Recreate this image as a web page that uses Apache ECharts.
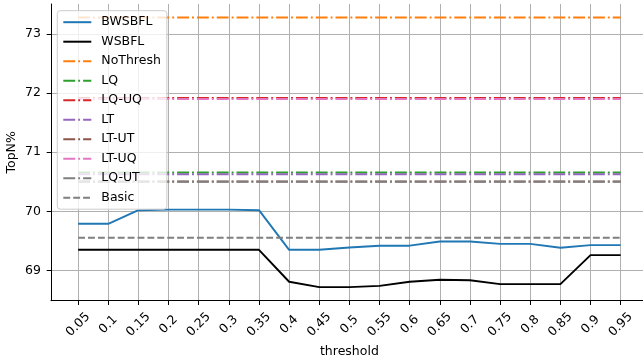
<!DOCTYPE html>
<html>
<head>
<meta charset="utf-8">
<script src="https://cdn.jsdelivr.net/npm/echarts@6/dist/echarts.min.js"></script>
<style>
html,body{margin:0;padding:0;background:#fff;}
#chart{width:643px;height:362px;}
</style>
</head>
<body>
<div id="chart"></div>
<script>
// ---- data ----
const thresholds = [0.05,0.1,0.15,0.2,0.25,0.3,0.35,0.4,0.45,0.5,0.55,0.6,0.65,0.7,0.75,0.8,0.85,0.9,0.95];
const tickLabels = ['0.05','0.1','0.15','0.2','0.25','0.3','0.35','0.4','0.45','0.5','0.55','0.6','0.65','0.7','0.75','0.8','0.85','0.9','0.95'];
const yTicks = [69,70,71,72,73];
const bwsbfl = [69.79,69.79,70.02,70.03,70.03,70.03,70.02,69.35,69.35,69.39,69.42,69.42,69.49,69.49,69.45,69.45,69.385,69.43,69.43];
const wsbfl  = [69.35,69.35,69.35,69.35,69.35,69.35,69.35,68.81,68.72,68.72,68.74,68.81,68.845,68.835,68.77,68.77,68.77,69.26,69.26];
const noThresh = 73.277;
const lq = 70.657;
const lqUq = 71.915;
const lt = 70.628;
const ltUt = 70.505;
const ltUq = 71.900;
const lqUt = 70.500;
const basic = 69.555;

// ---- styles ----
const LW = 1.9;
const dashDot = [11.9, 3, 1.9, 3];
const dashed = [6.9, 3];
const FS = 12.5;
const FONT = 'DejaVu Sans';

function curve(name, values, color) {
  return {
    name, type: 'line', symbol: 'none', animation: false,
    data: thresholds.map((t, i) => [t, values[i]]),
    lineStyle: { color, width: LW, cap: 'butt', join: 'round' },
    itemStyle: { color }
  };
}
function ref(name, value, color, dash) {
  const first = thresholds[0], last = thresholds[thresholds.length - 1];
  return {
    name, type: 'line', symbol: 'none', animation: false,
    data: [[first, value], [last, value]],
    lineStyle: { color, width: LW, type: dash, cap: 'butt' },
    itemStyle: { color }
  };
}

const series = [
  curve('BWSBFL', bwsbfl, '#1f77b4'),
  curve('WSBFL', wsbfl, '#000000'),
  ref('NoThresh', noThresh, '#ff7f0e', dashDot),
  ref('LQ', lq, '#2ca02c', dashDot),
  ref('LQ-UQ', lqUq, '#d62728', dashDot),
  ref('LT', lt, '#9467bd', dashDot),
  ref('LT-UT', ltUt, '#8c564b', dashDot),
  ref('LT-UQ', ltUq, '#e377c2', dashDot),
  ref('LQ-UT', lqUt, '#7f7f7f', dashDot),
  ref('Basic', basic, '#7f7f7f', dashed)
];

function labelFor(v) {
  let best = 0, bd = Infinity;
  thresholds.forEach((t, i) => { const d = Math.abs(t - v); if (d < bd) { bd = d; best = i; } });
  return tickLabels[best];
}

const chart = echarts.init(document.getElementById('chart'), null, { renderer: 'canvas' });
chart.setOption({
  animation: false,
  backgroundColor: '#ffffff',
  textStyle: { fontFamily: FONT },
  grid: { left: 51, right: -4.8, top: 4, bottom: 61.3, containLabel: false, outerBoundsMode: 'none' },
  legend: {
    orient: 'vertical', left: 57.3, top: 10.7,
    backgroundColor: 'rgba(255,255,255,0.8)',
    borderColor: '#cccccc', borderWidth: 1, borderRadius: 3,
    padding: [5, 6, 5, 5],
    itemWidth: 28, itemHeight: 14, itemGap: 6.5,
    itemStyle: { color: 'rgba(0,0,0,0)', borderColor: 'rgba(0,0,0,0)', borderWidth: 0, opacity: 0 },
    textStyle: { fontFamily: FONT, fontSize: FS, color: '#000', padding: [0, 0, 0, 5] },
    data: series.map(s => s.name)
  },
  xAxis: {
    type: 'value', min: 0.005, max: 0.995,
    name: 'threshold', nameLocation: 'middle', nameGap: 45, nameMoveOverlap: false,
    nameTextStyle: { fontFamily: FONT, fontSize: FS, color: '#000' },
    axisLine: { show: true, onZero: false, lineStyle: { color: '#000', width: 1 } },
    axisTick: { show: true, length: 4.3, inside: false, customValues: thresholds, lineStyle: { color: '#000', width: 1 } },
    axisLabel: {
      customValues: thresholds, rotate: 45, margin: 24, align: 'center', verticalAlign: 'middle',
      fontFamily: FONT, fontSize: FS, color: '#000',
      formatter: v => labelFor(v)
    },
    splitLine: { show: true, lineStyle: { color: '#b0b0b0', width: 1 } }
  },
  yAxis: {
    type: 'value', min: 68.49, max: 73.505,
    name: 'TopN%', nameLocation: 'middle', nameGap: 33, nameMoveOverlap: false,
    nameTextStyle: { fontFamily: FONT, fontSize: FS, color: '#000' },
    axisLine: { show: true, onZero: false, lineStyle: { color: '#000', width: 1 } },
    axisTick: { show: true, length: 4.3, customValues: yTicks, lineStyle: { color: '#000', width: 1 } },
    axisLabel: { customValues: yTicks, margin: 10, fontFamily: FONT, fontSize: FS, color: '#000',
      formatter: v => String(Math.round(v)) },
    splitLine: { show: true, lineStyle: { color: '#b0b0b0', width: 1 } }
  },
  series
});
</script>
</body>
</html>
